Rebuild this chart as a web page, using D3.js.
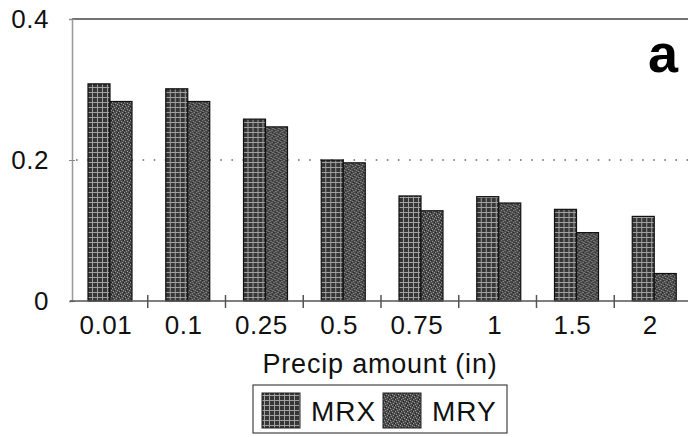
<!DOCTYPE html>
<html>
<head>
<meta charset="utf-8">
<script src="https://cdn.jsdelivr.net/npm/d3@7"></script>
<style>
  body { margin: 0; background: #fff; }
  svg { font-family: "Liberation Sans", Arial, sans-serif; }
</style>
</head>
<body>
<script>
// data
const categories = ['0.01', '0.1', '0.25', '0.5', '0.75', '1', '1.5', '2'];
const seriesNames = ['MRX', 'MRY'];
const mrx = [0.308, 0.301, 0.258, 0.200, 0.149, 0.148, 0.130, 0.120];
const mry = [0.283, 0.283, 0.247, 0.196, 0.128, 0.139, 0.097, 0.039];
const yTicks = [0, 0.2, 0.4];

const width = 688, height = 437;

const svg = d3.select('body').append('svg')
  .attr('width', width)
  .attr('height', height);

// fill patterns
const defs = svg.append('defs');
const pX = defs.append('pattern').attr('id', 'pat-mrx')
  .attr('patternUnits', 'userSpaceOnUse').attr('width', 5).attr('height', 5);
pX.append('rect').attr('width', 5).attr('height', 5).attr('fill', '#363636');
pX.append('rect').attr('x', 0).attr('y', 2).attr('width', 5).attr('height', 1).attr('fill', '#a0a0a0');
pX.append('rect').attr('x', 2).attr('y', 0).attr('width', 1).attr('height', 5).attr('fill', '#a0a0a0');

const pY = defs.append('pattern').attr('id', 'pat-mry')
  .attr('patternUnits', 'userSpaceOnUse').attr('width', 6).attr('height', 6);
pY.append('rect').attr('width', 6).attr('height', 6).attr('fill', '#4a4a4a');
[[0, 0], [3, 1], [1, 3], [4, 4], [5, 2], [2, 5]].forEach(function(p) {
  pY.append('rect').attr('x', p[0]).attr('y', p[1]).attr('width', 1).attr('height', 1).attr('fill', '#9a9a9a');
});
[[2, 2], [5, 0], [0, 4]].forEach(function(p) {
  pY.append('rect').attr('x', p[0]).attr('y', p[1]).attr('width', 1).attr('height', 1).attr('fill', '#1e1e1e');
});

const fills = { MRX: 'url(#pat-mrx)', MRY: 'url(#pat-mry)' };

// scales
const x = d3.scaleBand().domain(categories).range([70, 692]);
const xSub = d3.scaleBand().domain(seriesNames).range([18, 62]);
const y = d3.scaleLinear().domain([0, 0.4]).range([301, 19]);

// dotted grid line at 0.2
svg.append('line')
  .attr('x1', 76).attr('x2', 688)
  .attr('y1', y(0.2)).attr('y2', y(0.2))
  .attr('stroke', '#666').attr('stroke-width', 1.6)
  .attr('stroke-dasharray', '1.6,9.5');

// top frame line
svg.append('line')
  .attr('x1', 72).attr('x2', 688)
  .attr('y1', y(0.4)).attr('y2', y(0.4))
  .attr('stroke', '#444').attr('stroke-width', 1.5);

// bars
const rows = categories.map(function(c, i) { return { cat: c, MRX: mrx[i], MRY: mry[i] }; });
const groups = svg.append('g').selectAll('g')
  .data(rows).enter().append('g')
  .attr('transform', d => 'translate(' + x(d.cat) + ',0)');

groups.selectAll('rect')
  .data(d => seriesNames.map(k => ({ key: k, value: d[k] })))
  .enter().append('rect')
  .attr('x', d => xSub(d.key))
  .attr('y', d => y(d.value))
  .attr('width', xSub.bandwidth())
  .attr('height', d => y(0) - y(d.value))
  .attr('fill', d => fills[d.key])
  .attr('stroke', '#111')
  .attr('stroke-width', 1.2);

// y axis
svg.append('g')
  .attr('transform', 'translate(72,0)')
  .call(d3.axisLeft(y).tickValues(yTicks).tickSize(3).tickFormat(d => d === 0 ? '0' : d3.format('.1f')(d)).tickPadding(20))
  .call(g => g.select('.domain').attr('stroke', '#999').attr('stroke-width', 1.5))
  .call(g => g.selectAll('.tick line').attr('stroke', '#888').attr('x2', 3).attr('x1', -3))
  .call(g => g.selectAll('.tick text').attr('font-size', 26).attr('fill', '#111')
    .attr('letter-spacing', 0.5)
    .attr('font-family', '"Liberation Sans", Arial, sans-serif'));

// x axis: ticks at category boundaries
const xAxis = svg.append('g').attr('transform', 'translate(0,' + y(0) + ')');
xAxis.append('line')
  .attr('x1', 70).attr('x2', 688)
  .attr('stroke', '#555').attr('stroke-width', 1.5);
xAxis.selectAll('.bound')
  .data(categories.slice(1)).enter().append('line')
  .attr('x1', d => x(d)).attr('x2', d => x(d))
  .attr('y1', -6).attr('y2', 7)
  .attr('stroke', '#555').attr('stroke-width', 1.5);
xAxis.selectAll('.lab')
  .data(categories).enter().append('text')
  .attr('x', d => x(d) + x.bandwidth() / 2 - 3)
  .attr('y', 33)
  .attr('text-anchor', 'middle')
  .attr('font-size', 26)
  .attr('letter-spacing', 0.5)
  .attr('fill', '#111')
  .text(d => d);

// axis title
svg.append('text')
  .attr('x', 380).attr('y', 373)
  .attr('text-anchor', 'middle')
  .attr('font-size', 27)
  .attr('letter-spacing', 0.8)
  .attr('fill', '#111')
  .text('Precip amount (in)');

// panel letter
svg.append('text')
  .attr('x', 678).attr('y', 72)
  .attr('text-anchor', 'end')
  .attr('font-size', 54)
  .attr('font-weight', 'bold')
  .attr('fill', '#000')
  .text('a');

// legend
const legend = svg.append('g');
legend.append('rect')
  .attr('x', 253).attr('y', 385)
  .attr('width', 254).attr('height', 48)
  .attr('fill', 'none').attr('stroke', '#444').attr('stroke-width', 1.2);
const legX = d3.scaleOrdinal().domain(seriesNames).range([262, 383]);
const items = legend.selectAll('.item')
  .data(seriesNames).enter().append('g')
  .attr('transform', d => 'translate(' + legX(d) + ',393)');
items.append('rect')
  .attr('width', 38).attr('height', 35)
  .attr('fill', d => fills[d])
  .attr('stroke', '#222').attr('stroke-width', 1);
items.append('text')
  .attr('x', 49).attr('y', 28)
  .attr('font-size', 28)
  .attr('letter-spacing', 1)
  .attr('fill', '#111')
  .text(d => d);
</script>
</body>
</html>
